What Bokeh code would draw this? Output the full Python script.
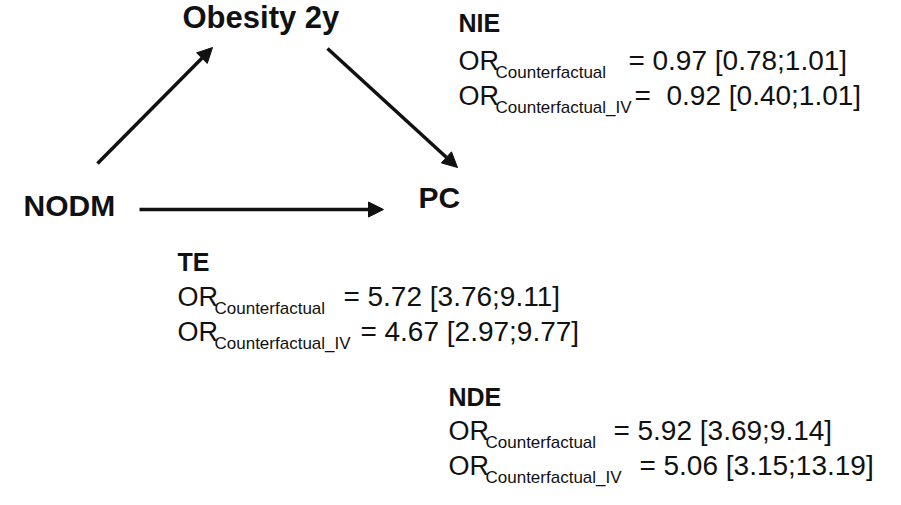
from bokeh.plotting import figure
from bokeh.models import Range1d, Arrow, NormalHead
from bokeh.core.properties import value
from bokeh.embed import file_html
from bokeh.resources import INLINE

# ---------------- data ----------------
nodes = ["Obesity 2y", "NODM", "PC"]
effects = ["NIE", "TE", "NDE"]
or_cf = [0.97, 5.72, 5.92]
lo_cf = [0.78, 3.76, 3.69]
hi_cf = [1.01, 9.11, 9.14]
or_iv = [0.92, 4.67, 5.06]
lo_iv = [0.40, 2.97, 3.15]
hi_iv = [1.01, 9.77, 13.19]
sub_cf = "Counterfactual"
sub_iv = "Counterfactual_IV"

# ---------------- layout (pixel space of the picture) ----------------
node_x = [182, 23, 418]
node_y = [30, 218, 210]
node_size = [31, 30, 30]

blk_x = [458, 177, 448]          # left edge of each effect block
blk_head_y = [33, 272, 407]      # header baseline
blk_l1_y = [72, 308, 442]
blk_l2_y = [107, 343, 477]
eq1_x = [628, 343, 613]
eq2_x = [634, 360, 639]
gap1 = [24, 24, 24]
gap2 = [32, 24, 24]

arrows = [((97, 163), (212, 47)), ((327, 48), (457, 167)), ((139, 209), (383, 209))]

FONT = value("Liberation Sans")
INK = "#111111"
BL = 0.42   # baseline correction, fraction of font size


def by(y, size):
    return y - BL * size


p = figure(width=885, height=489, x_range=Range1d(0, 885), y_range=Range1d(489, 0),
           output_backend="svg", toolbar_location=None, x_axis_type=None, y_axis_type=None,
           min_border=0, outline_line_color=None, background_fill_color="white",
           border_fill_color="white")
p.grid.visible = False

# nodes
for name, x, y, s in zip(nodes, node_x, node_y, node_size):
    p.text(x=[x], y=[by(y, s)], text=[name], text_font=FONT, text_font_style="bold",
           text_font_size=f"{s}px", text_baseline="alphabetic", text_align="left",
           text_color=INK)

# arrows
for (x0, y0), (x1, y1) in arrows:
    p.add_layout(Arrow(x_start=x0, y_start=y0, x_end=x1, y_end=y1, line_width=3.5,
                       line_color=INK,
                       end=NormalHead(size=15, fill_color=INK, line_color=INK, line_width=1)))

# effect blocks
HS, MS, SS = 25, 28, 17
hx, hy, ht = [], [], []
orx, ory, ort = [], [], []
sbx, sby, sbt = [], [], []
eqx, eqy, eqt = [], [], []
vx, vy, vt = [], [], []
for i, eff in enumerate(effects):
    hx.append(blk_x[i]); hy.append(by(blk_head_y[i], HS)); ht.append(eff)
    rows = ((blk_l1_y[i], sub_cf, eq1_x[i], gap1[i], or_cf[i], lo_cf[i], hi_cf[i]),
            (blk_l2_y[i], sub_iv, eq2_x[i], gap2[i], or_iv[i], lo_iv[i], hi_iv[i]))
    for ly, sub, ex, g, v, lo, hi in rows:
        orx.append(blk_x[i]); ory.append(by(ly, 27)); ort.append("OR")
        sbx.append(blk_x[i] + 37); sby.append(by(ly + 7, SS)); sbt.append(sub)
        eqx.append(ex); eqy.append(by(ly, MS)); eqt.append("=")
        vx.append(ex + g); vy.append(by(ly, MS)); vt.append(f"{v:.2f} [{lo:.2f};{hi:.2f}]")

p.text(x=hx, y=hy, text=ht, text_font=FONT, text_font_style="bold", text_font_size=f"{HS}px",
       text_baseline="alphabetic", text_color=INK)
p.text(x=orx, y=ory, text=ort, text_font=FONT, text_font_size="27px",
       text_baseline="alphabetic", text_color=INK)
p.text(x=sbx, y=sby, text=sbt, text_font=FONT, text_font_size=f"{SS}px",
       text_baseline="alphabetic", text_color=INK)
p.text(x=eqx, y=eqy, text=eqt, text_font=FONT, text_font_size=f"{MS}px",
       text_baseline="alphabetic", text_color=INK)
p.text(x=vx, y=vy, text=vt, text_font=FONT, text_font_size=f"{MS}px",
       text_baseline="alphabetic", text_color=INK)

open("out.html", "w").write(file_html(p, INLINE))
